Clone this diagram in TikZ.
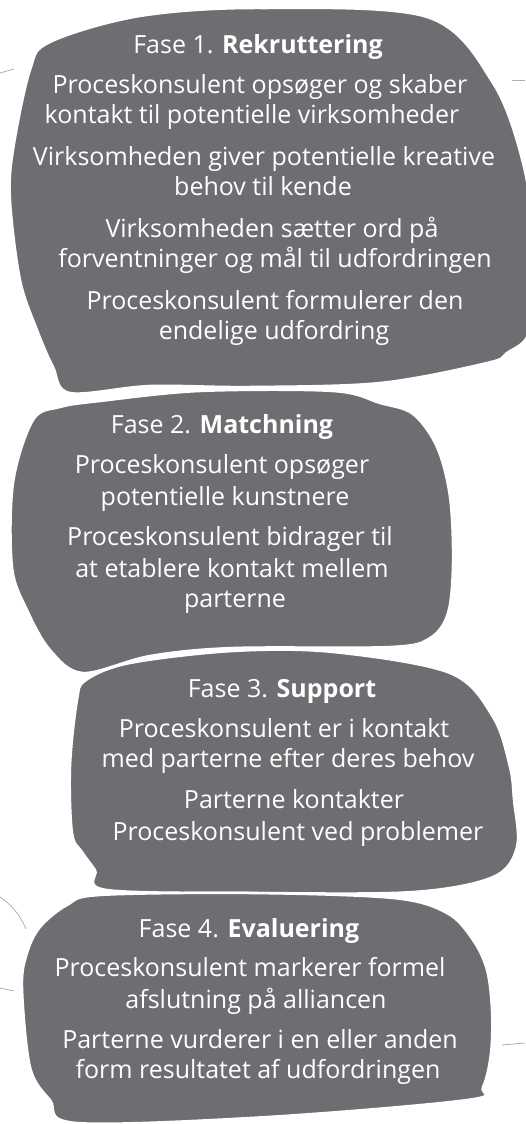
\documentclass[tikz,border=0pt]{standalone}
\usepackage{fontspec}
\setmainfont{Open Sans}
\definecolor{faseGrey}{RGB}{109,110,113}
\definecolor{stregGrey}{RGB}{175,175,175}
\tikzset{
  blob/.style={fill=faseGrey, draw=white, line width=2.5pt},
  linje/.style={text=white, anchor=base, inner sep=0pt, font=\fontsize{25}{28}\selectfont},
  streg/.style={draw=stregGrey, line width=0.8pt},
}
\begin{document}
\begin{tikzpicture}[x=1pt,y=-1pt]
  \useasboundingbox (0,0) rectangle (525,1124);
  % thin lines behind the blobs
  \draw[streg] (0,73) -- (14,69);
  \draw[streg] (512,80) -- (525,80);
  \draw[streg] (0,897) .. controls (12,905) and (20,915) .. (26,929);
  \draw[streg] (0,988) -- (14,991);
  \draw[streg] (502,1045) -- (525,1043);
  % fase 1
  \draw[blob] plot[smooth cycle, tension=0.55] coordinates {
    (70,393) (53,367) (37,330) (20,280) (10,200) (13,150) (30,70) (50,42)
    (140,16) (260,8) (427,17) (493,83) (524,167) (534,250) (530,330)
    (507,353) (487,363) (380,383) (250,387) (150,386)};
  % fase 2
  \draw[blob] plot[smooth cycle, tension=0.55] coordinates {
    (83,673) (50,650) (27,610) (12,567) (13,483) (33,420) (60,407) (100,401)
    (200,391) (333,391) (380,403) (413,414) (437,447) (450,497) (453,563)
    (448,613) (430,638) (390,647) (233,648) (150,656)};
  % fase 3
  \draw[blob] plot[smooth cycle, tension=0.55] coordinates {
    (86,680) (77,700) (70,767) (72,833) (82,852) (95,870) (107,890)
    (260,893) (413,892) (493,877) (517,847) (514,800) (510,767) (493,717)
    (450,673) (333,652) (233,651) (130,663)};
  % fase 4
  \draw[blob] plot[smooth cycle, tension=0.55] coordinates {
    (100,895) (250,893) (393,898) (447,913) (473,940) (487,970) (492,1010)
    (491,1053) (483,1087) (467,1100) (267,1117) (77,1123) (50,1100) (30,1067)
    (22,987) (27,953) (40,927) (67,905)};

  \node[linje] (f1) at (258,53) {Fase 1. \textbf{Rekruttering}};
  \foreach \yy/\xx/\txt [count=\i] in {
    93/260/Proceskonsulent opsøger og skaber,
    123/252/kontakt til potentielle virksomheder,
    165/264/Virksomheden giver potentielle kreative,
    195/263/behov til kende,
    237/272/Virksomheden sætter ord på,
    267/275/forventninger og mål til udfordringen,
    309/275/Proceskonsulent formulerer den,
    339/274/endelige udfordring}
    \node[linje] (f1l\i) at (\xx,\yy) {\txt};

  \node[linje] (f2) at (222,433) {Fase 2. \textbf{Matchning}};
  \foreach \yy/\xx/\txt [count=\i] in {
    473/222/Proceskonsulent opsøger,
    505/225/potentielle kunstnere,
    545/230/Proceskonsulent bidrager til,
    577/232/at etablere kontakt mellem,
    607/235/parterne}
    \node[linje] (f2l\i) at (\xx,\yy) {\txt};

  \node[linje] (f3) at (282,697) {Fase 3. \textbf{Support}};
  \foreach \yy/\xx/\txt [count=\i] in {
    737/284/Proceskonsulent er i kontakt,
    767/288/med parterne efter deres behov,
    808/294/Parterne kontakter,
    840/298/Proceskonsulent ved problemer}
    \node[linje] (f3l\i) at (\xx,\yy) {\txt};

  \node[linje] (f4) at (249,937) {Fase 4. \textbf{Evaluering}};
  \foreach \yy/\xx/\txt [count=\i] in {
    976/250/Proceskonsulent markerer formel,
    1008/256/afslutning på alliancen,
    1048/260/Parterne vurderer i en eller anden,
    1078/258/form resultatet af udfordringen}
    \node[linje] (f4l\i) at (\xx,\yy) {\txt};
\end{tikzpicture}
\end{document}
